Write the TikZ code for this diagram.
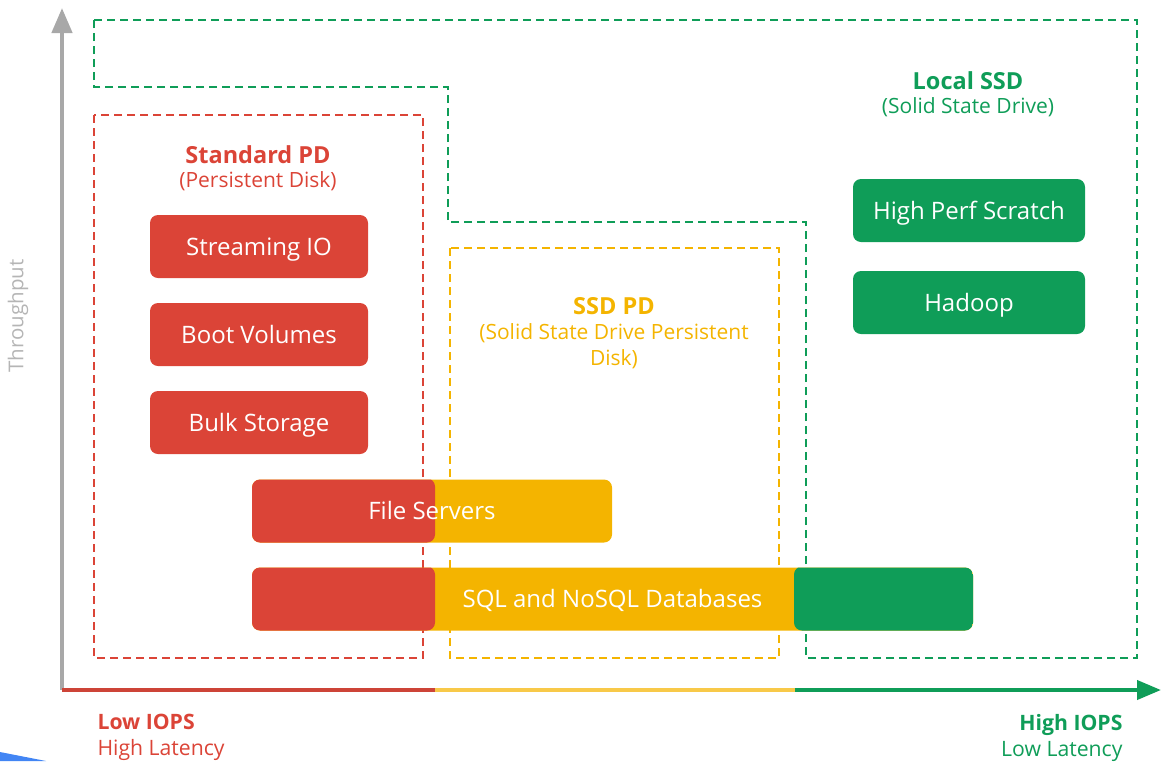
\documentclass[tikz,border=0pt]{standalone}
\usepackage{fontspec}
\setmainfont{Open Sans}
\usetikzlibrary{arrows.meta}
\definecolor{gred}{HTML}{DB4437}
\definecolor{gyellow}{HTML}{F4B400}
\definecolor{ggreen}{HTML}{0F9D58}
\definecolor{axred}{HTML}{CD4438}
\definecolor{axyellow}{HTML}{F8C949}
\definecolor{axgray}{HTML}{A8A8A8}
\definecolor{gblue}{HTML}{4285F4}
\begin{document}
\begin{tikzpicture}[
			x=1pt, y=-1pt,
			zone/.style={line width=1.6pt, dash pattern=on 8pt off 5pt},
			usecase/.style={rounded corners=8pt, minimum width=218pt, minimum height=63pt,
					inner sep=0pt, text height=20pt, text depth=3pt, text=white,
					font=\fontsize{24}{28}\selectfont},
			title/.style={font=\bfseries\fontsize{23.5}{28}\selectfont},
			subtitle/.style={font=\fontsize{21}{26}\selectfont, align=center},
			axlabel/.style={font=\fontsize{21.2}{26}\selectfont, align=left}
		]
		\useasboundingbox (0,0) rectangle (1161,761);
		\fill[gblue] (0,752) -- (46,761) -- (0,761) -- cycle;
		% zones
		\draw[zone, ggreen] (94,20) -- (1137,20) -- (1137,658) -- (806,658) -- (806,222)
		-- (448,222) -- (448,87) -- (94,87) -- cycle;
		\draw[zone, gred] (94,115) rectangle (423,658);
		\draw[zone, gyellow] (450,248) rectangle (779,658);
		% zone titles
		\node[title, text=gred] (stdpd) at (258,154.5) {Standard PD};
		\node[subtitle, text=gred] (stdpdsub) at (258,181) {(Persistent Disk)};
		\node[title, text=gyellow] (ssdpd) at (614,306) {SSD PD};
		\node[subtitle, text=gyellow, anchor=north] (ssdpdsub) at (614,320)
		{(Solid State Drive Persistent\\Disk)};
		\node[title, text=ggreen] (localssd) at (968,80.5) {Local SSD};
		\node[subtitle, text=ggreen] (localssdsub) at (968,107) {(Solid State Drive)};
		% use cases
		\node[usecase, fill=gred] (streaming) at (259,246.5) {Streaming IO};
		\node[usecase, fill=gred] (boot) at (259,334.5) {Boot Volumes};
		\node[usecase, fill=gred] (bulk) at (259,422.5) {Bulk Storage};
		\node[usecase, fill=ggreen, minimum width=232pt] (scratch) at (969,210.5) {High Perf Scratch};
		\node[usecase, fill=ggreen, minimum width=232pt] (hadoop) at (969,302.5) {Hadoop};
		\node[usecase, fill=gyellow, minimum width=360pt,
			path picture={\fill[gred] (path picture bounding box.south west) rectangle ++(183pt,64pt);}]
		(files) at (432,511) {File Servers};
		\node[usecase, fill=gyellow, minimum width=721pt,
			path picture={
					\fill[gred] (path picture bounding box.south west) rectangle ++(183pt,64pt);
					\fill[ggreen] ([xshift=542pt]path picture bounding box.south west) rectangle ++(179pt,64pt);
				}]
		(sql) at (612.5,599) {SQL and NoSQL Databases};
		% axes
		\coordinate (origin) at (62,690);
		\coordinate (ytip) at (62,8);
		\coordinate (xred) at (435,690);
		\coordinate (xyellow) at (795,690);
		\coordinate (xtip) at (1161,690);
		\draw[axgray, line width=4.5pt, -{Triangle[length=25pt, width=20pt]}] (origin) -- (ytip);
		\draw[axred, line width=4pt] (origin) -- (xred);
		\draw[axyellow, line width=4pt] (xred) -- (xyellow);
		\draw[ggreen, line width=4pt, -{Triangle[length=24pt, width=19pt]}] (xyellow) -- (xtip);
		% axis labels
		\node[text=axgray!85, rotate=90, font=\fontsize{20.5}{24}\selectfont] (thru) at (18,316) {Throughput};
		\node[axlabel, text=gred, anchor=north west] (low) at (94,711)
		{\textbf{Low IOPS}\\High Latency};
		\node[axlabel, text=ggreen, anchor=north east, align=right] (high) at (1126,711)
		{\textbf{High IOPS}\\Low Latency};
	\end{tikzpicture}
\end{document}
